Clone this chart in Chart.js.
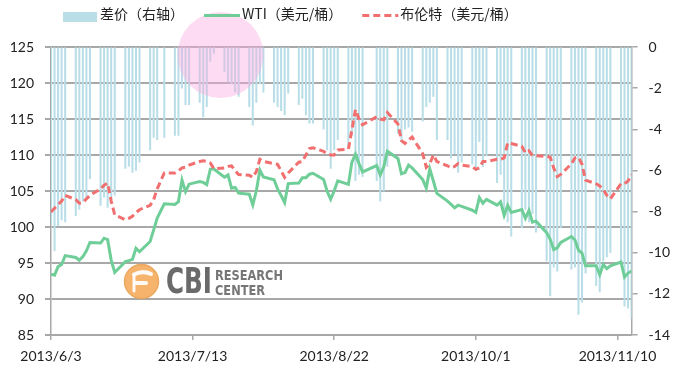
<!DOCTYPE html>
<html><head><meta charset="utf-8">
<script src="https://cdn.jsdelivr.net/npm/chart.js@4.4.1/dist/chart.umd.min.js"></script>
<style>html,body{margin:0;padding:0;background:#fff}canvas{display:block}</style>
</head><body>
<canvas id="c" width="674" height="371"></canvas>
<script>
// ---------- data ----------
const dates = ['2013/6/3','2013/6/4','2013/6/5','2013/6/6','2013/6/7','2013/6/10','2013/6/11','2013/6/12','2013/6/13','2013/6/14','2013/6/17','2013/6/18','2013/6/19','2013/6/20','2013/6/21','2013/6/24','2013/6/25','2013/6/26','2013/6/27','2013/6/28',
'2013/7/1','2013/7/2','2013/7/3','2013/7/5','2013/7/8','2013/7/9','2013/7/10','2013/7/11','2013/7/12','2013/7/15','2013/7/16','2013/7/17','2013/7/18','2013/7/19','2013/7/22','2013/7/23','2013/7/24','2013/7/25','2013/7/26','2013/7/29','2013/7/30','2013/7/31',
'2013/8/1','2013/8/2','2013/8/5','2013/8/6','2013/8/7','2013/8/8','2013/8/9','2013/8/12','2013/8/13','2013/8/14','2013/8/15','2013/8/16','2013/8/19','2013/8/20','2013/8/21','2013/8/22','2013/8/23','2013/8/26','2013/8/27','2013/8/28','2013/8/29','2013/8/30',
'2013/9/3','2013/9/4','2013/9/5','2013/9/6','2013/9/9','2013/9/10','2013/9/11','2013/9/12','2013/9/13','2013/9/16','2013/9/17','2013/9/18','2013/9/19','2013/9/20','2013/9/23','2013/9/24','2013/9/25','2013/9/26','2013/9/27','2013/9/30',
'2013/10/1','2013/10/2','2013/10/3','2013/10/4','2013/10/7','2013/10/8','2013/10/9','2013/10/10','2013/10/11','2013/10/14','2013/10/15','2013/10/16','2013/10/17','2013/10/18','2013/10/21','2013/10/22','2013/10/23','2013/10/24','2013/10/25','2013/10/28','2013/10/29','2013/10/30','2013/10/31',
'2013/11/1','2013/11/4','2013/11/5','2013/11/6','2013/11/7','2013/11/8','2013/11/11','2013/11/12','2013/11/13','2013/11/14'];

const wti = [93.45,93.31,94.5,94.8,96.03,95.77,95.38,95.88,96.69,97.85,97.77,98.44,98.24,95.40,93.69,95.18,95.32,95.50,97.05,96.56,
97.99,99.60,101.24,103.22,103.14,103.53,106.52,104.91,105.95,106.32,106.20,105.90,108.04,108.05,106.91,107.23,105.39,105.49,104.70,104.55,103.08,105.03,
107.89,106.94,106.56,105.30,104.37,103.40,106.03,106.11,106.83,106.85,107.33,107.46,106.61,104.96,103.85,105.03,106.42,105.92,109.01,110.10,108.80,107.65,
108.54,107.23,108.37,110.53,109.52,107.39,107.55,108.60,108.21,106.59,105.42,108.07,106.39,104.67,103.59,103.13,102.66,103.03,102.87,102.33,
102.04,104.10,103.31,103.84,103.03,103.49,101.61,103.01,102.02,102.41,101.21,102.29,100.67,100.81,99.22,98.30,96.86,97.11,97.85,98.68,98.20,96.77,96.38,
94.61,94.62,93.37,94.80,94.20,94.60,95.14,93.04,93.60,93.90];

const brent = [102.1,102.6,103.1,103.6,104.4,103.8,103.3,103.4,103.9,104.4,105.3,105.8,106.1,103.6,101.7,101.0,101.2,101.5,102.0,102.4,
103.0,103.8,105.3,107.5,107.5,107.8,108.2,108.3,108.6,109.1,109.2,109.1,108.9,108.1,108.2,108.4,108.5,107.8,107.3,107.2,106.9,107.7,
109.4,109.1,108.8,108.7,107.8,106.9,107.5,109.0,109.1,110.0,110.9,111.0,110.5,110.2,110.0,110.0,110.7,110.8,113.5,116.3,115.0,114.2,
115.3,115.0,114.9,115.9,114.3,112.0,111.6,112.1,112.5,110.2,108.3,108.8,110.0,109.1,108.5,108.2,108.4,108.8,108.6,108.4,
108.0,108.2,109.1,109.1,109.4,109.4,109.6,111.7,111.6,111.2,110.3,110.6,109.9,109.9,109.8,109.7,108.2,107.0,107.3,108.8,109.6,109.7,108.7,
106.5,106.0,105.7,105.2,104.4,103.9,106.0,106.0,106.4,107.3];

const spread = [-8.6,-9.9,-8.7,-8.4,-8.5,-8.2,-7.9,-7.5,-7.4,-6.4,-7.7,-7.3,-7.8,-7.6,-7.2,-5.9,-5.8,-6.1,-6.0,-5.6,
-5.0,-4.4,-4.5,-4.4,-4.3,-4.3,-2.0,-2.8,-2.8,-2.7,-3.4,-2.9,-0.7,-0.3,-1.2,-1.7,-1.8,-2.2,-2.4,-2.9,-3.8,-2.7,
-1.8,-2.2,-2.7,-2.9,-3.1,-3.3,-2.25,-2.8,-2.5,-3.3,-3.7,-3.7,-4.0,-5.0,-5.9,-5.0,-4.5,-4.8,-4.3,-6.5,-6.2,-6.3,
-6.5,-7.5,-7.0,-5.8,-4.2,-4.6,-4.0,-3.9,-4.1,-3.6,-2.9,-2.7,-2.4,-4.5,-4.5,-5.4,-5.2,-6.1,-5.6,-5.7,
-6.0,-4.6,-5.8,-5.3,-6.6,-6.2,-7.9,-8.5,-9.2,-8.8,-7.9,-8.5,-8.1,-9.0,-10.4,-12.1,-10.7,-10.9,-8.8,-10.8,-10.7,-13.0,-12.4,
-11.0,-11.6,-11.9,-10.4,-10.2,-10.0,-10.6,-12.6,-12.7,-13.2];

const seriesNames = ['差价（右轴）', 'WTI（美元/桶）', '布伦特（美元/桶）'];
const xTickLabels = ['2013/6/3', '2013/7/13', '2013/8/22', '2013/10/1', '2013/11/10'];
const leftTicks = [85, 90, 95, 100, 105, 110, 115, 120, 125];
const rightTicks = [-14, -12, -10, -8, -6, -4, -2, 0];

// ---------- helpers ----------
function dayOf(s) {
  const p = s.split('/').map(Number);
  const b = dates[0].split('/').map(Number);
  return Math.round((Date.UTC(p[0], p[1] - 1, p[2]) - Date.UTC(b[0], b[1] - 1, b[2])) / 864e5);
}
const pts = arr => dates.map((d, i) => ({x: dayOf(d), y: arr[i]}));

const COL_BAR = '#b9dee8', COL_WTI = '#6fce98', COL_BRENT = '#f26f6f';
const GRID = '#a8a8a8', TXT = '#222';
const TICK_FONT = {family: 'Lato, "Open Sans", sans-serif', size: 14};

const decor = {
  id: 'decor',
  afterDatasetsDraw(chart) {
    const ctx = chart.ctx;
    // pink translucent circle
    ctx.save();
    ctx.fillStyle = 'rgba(250,170,225,0.42)';
    ctx.beginPath(); ctx.arc(220.5, 55, 43, 0, Math.PI * 2); ctx.fill();
    ctx.restore();
    // CBI logo
    ctx.save();
    ctx.globalAlpha = 0.92;
    ctx.fillStyle = '#f5ad60';
    ctx.strokeStyle = '#eaa55a';
    ctx.lineWidth = 1.5;
    ctx.beginPath(); ctx.arc(141.5, 281.5, 17, 0, Math.PI * 2); ctx.fill(); ctx.stroke();
    ctx.strokeStyle = '#fff'; ctx.lineCap = 'round';
    ctx.lineWidth = 4;
    ctx.beginPath(); ctx.moveTo(134, 274.5); ctx.quadraticCurveTo(143, 270, 151, 274); ctx.stroke();
    ctx.beginPath(); ctx.moveTo(135, 283); ctx.lineTo(146, 283); ctx.stroke();
    ctx.lineWidth = 3;
    ctx.beginPath(); ctx.moveTo(134, 274.5); ctx.lineTo(134, 291); ctx.stroke();
    ctx.globalAlpha = 1;
    ctx.fillStyle = '#6a6a6a';
    ctx.textBaseline = 'alphabetic'; ctx.textAlign = 'left';
    ctx.font = 'bold 36px "DejaVu Sans Condensed", "DejaVu Sans", sans-serif';
    ctx.fillText('CBI', 166, 293, 46);
    ctx.fillStyle = '#767676';
    ctx.font = 'bold 14px "DejaVu Sans Condensed", "DejaVu Sans", sans-serif';
    ctx.fillText('RESEARCH', 215, 280, 68);
    ctx.fillText('CENTER', 215, 295, 50);
    ctx.restore();
  },
  afterDraw(chart) {
    // legend
    const ctx = chart.ctx;
    const ds = chart.data.datasets;
    ctx.save();
    ctx.font = '14px "Noto Sans CJK SC", sans-serif';
    ctx.textBaseline = 'middle'; ctx.textAlign = 'left';
    ctx.fillStyle = TXT;
    let x = 63;
    const order = [2, 0, 1];
    order.forEach((di) => {
      const d = ds[di];
      if (d.type === 'bar') {
        ctx.fillStyle = d.backgroundColor;
        ctx.fillRect(x, 12, 34, 10);
        x += 37;
      } else {
        ctx.strokeStyle = d.borderColor; ctx.lineWidth = 3;
        ctx.setLineDash(d.borderDash || []);
        ctx.beginPath(); ctx.moveTo(x, 15.5); ctx.lineTo(x + 36, 15.5); ctx.stroke();
        ctx.setLineDash([]);
        x += 38;
      }
      ctx.fillStyle = TXT;
      ctx.fillText(d.label, x, 14);
      x += ctx.measureText(d.label).width + 20;
    });
    ctx.restore();
  }
};

new Chart(document.getElementById('c'), {
  type: 'bar',
  data: {
    datasets: [
      {type: 'line', label: seriesNames[1], data: pts(wti), borderColor: COL_WTI, backgroundColor: COL_WTI,
       borderWidth: 3, pointRadius: 0, tension: 0, yAxisID: 'y', order: 2},
      {type: 'line', label: seriesNames[2], data: pts(brent), borderColor: COL_BRENT, backgroundColor: COL_BRENT,
       borderWidth: 3, borderDash: [7, 4], pointRadius: 0, tension: 0, yAxisID: 'y', order: 1},
      {type: 'bar', label: seriesNames[0], data: pts(spread), backgroundColor: COL_BAR,
       barThickness: 1.4, yAxisID: 'y1', order: 3}
    ]
  },
  options: {
    responsive: false, animation: false, devicePixelRatio: 1,
    layout: {padding: {top: 47, left: 0, right: 0, bottom: 0}},
    plugins: {legend: {display: false}, tooltip: {enabled: false}},
    scales: {
      x: {
        type: 'linear', offset: false,
        min: dayOf(dates[0]), max: dayOf(dates[dates.length - 1]),
        afterBuildTicks: s => { s.ticks = xTickLabels.map(t => ({value: dayOf(t)})); },
        afterFit: s => { s.height = 36; },
        ticks: {autoSkip: false, maxRotation: 0, padding: 8, color: TXT, font: TICK_FONT,
                callback: (v, i) => xTickLabels[i]},
        grid: {offset: false, drawOnChartArea: false, drawTicks: true, tickLength: 5, color: GRID, lineWidth: 1.5},
        border: {display: true, color: GRID, width: 1.5}
      },
      y: {
        position: 'left', min: leftTicks[0], max: leftTicks[leftTicks.length - 1],
        afterBuildTicks: s => { s.ticks = leftTicks.map(v => ({value: v})); },
        afterFit: s => { s.width = 51; },
        ticks: {padding: 11, color: TXT, font: TICK_FONT},
        grid: {color: GRID, lineWidth: 2, tickLength: 6},
        border: {display: true, color: GRID, width: 1.5}
      },
      y1: {
        position: 'right', min: rightTicks[0], max: rightTicks[rightTicks.length - 1],
        afterBuildTicks: s => { s.ticks = rightTicks.map(v => ({value: v})); },
        afterFit: s => { s.width = 42.4; },
        ticks: {padding: 11, color: TXT, font: TICK_FONT},
        grid: {drawOnChartArea: false, color: GRID, lineWidth: 1.5, tickLength: 6},
        border: {display: true, color: GRID, width: 1.5}
      }
    }
  },
  plugins: [decor]
});
</script>
</body></html>
